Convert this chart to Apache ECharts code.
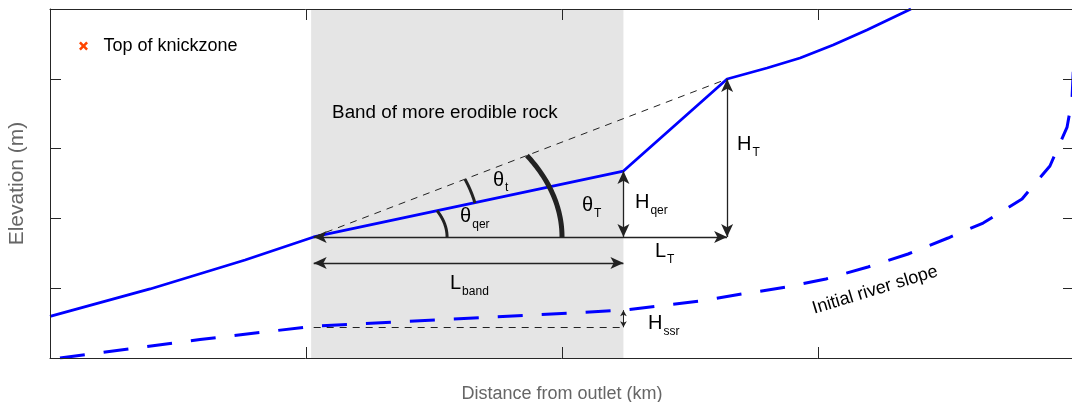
<!DOCTYPE html>
<html><head><meta charset="utf-8">
<script src="https://cdn.jsdelivr.net/npm/echarts@6/dist/echarts.min.js"></script>
<style>html,body{margin:0;padding:0;background:#fff}#c{width:1072px;height:402px}</style>
</head><body><div id="c"></div>
<script>
// ---- data (x: distance units, y: elevation units) ----
const xTicks = [0, 1, 2, 3, 4];
const yTicks = [0, 1, 2, 3, 4, 5];
const bandX = [1.02, 2.24];
const riverNow = [[0,0.595],[0.391,0.989],[0.762,1.404],[1.03,1.734],[2.24,2.679],[2.645,3.997],[2.801,4.155],[2.93,4.298],[3.059,4.484],[3.191,4.699],[3.363,5.0]];
const riverInitial = [[0.039,0],[0.586,0.265],[1.03,0.455],[2.24,0.685],[2.375,0.745],[2.539,0.817],[2.703,0.917],[2.871,1.013],[3.031,1.132],[3.195,1.304],[3.352,1.49],[3.508,1.719],[3.645,1.934],[3.797,2.278],[3.906,2.751],[3.973,3.309],[3.992,3.696],[3.997,4.1],[4.0,4.6]];
const guideLines = [
  [[1.03,1.734],[2.645,3.997]],
  [[1.03,0.44],[2.24,0.44]]
];
const arrowLines = [
  [[1.03,1.734],[2.645,1.734]],
  [[1.03,1.361],[2.24,1.361]],
  [[2.24,1.734],[2.24,2.679]],
  [[2.645,1.734],[2.645,3.997]]
];
const smallArrowLines = [
  [[2.24,0.44],[2.24,0.685]]
];
// angle arcs: vertex, point on first ray, point on second ray
const arcs = [
  {v:[1.03,1.734], p:[1.551,1.734], q:[1.512,2.11], w:3},
  {v:[1.03,1.734], p:[1.660,2.221], q:[1.621,2.562], w:3},
  {v:[1.03,1.734], p:[2.0,1.734], q:[1.863,2.901], w:5}
];
// labels: main text, subscript, x, y (left edge / middle of main glyph)
const labels = [
  ['θ','t',1.730,2.550],
  ['θ','qer',1.602,2.027],
  ['θ','T',2.078,2.185],
  ['H','qer',2.285,2.228],
  ['H','T',2.684,3.059],
  ['L','T',2.363,1.526],
  ['L','band',1.5625,1.067],
  ['H','ssr',2.336,0.494],
  ['Band of more erodible rock','',1.102,3.51]
];
const slopeLabel = ['Initial river slope', 3.223, 0.974];
const legendName = 'Top of knickzone';

// ---- rendering ----
const FF = 'Liberation Sans, Arial, Helvetica, sans-serif';
const ctx2 = document.createElement('canvas').getContext('2d');
function tw(s, size){ ctx2.font = size + 'px ' + FF; return ctx2.measureText(s).width; }

function axisBase(pos, isX){
  return {
    type:'value', position:pos, min: isX?xTicks[0]:yTicks[0], max: isX?xTicks[xTicks.length-1]:yTicks[yTicks.length-1], interval:1,
    axisLine:{show:true, onZero:false, lineStyle:{color:'#262626', width:1}},
    axisTick:{show:true, inside:true, length:11, lineStyle:{color:'#262626', width:1}},
    axisLabel:{show:false}, splitLine:{show:false}, z:10
  };
}
const xBottom = Object.assign(axisBase('bottom', true), {name:'Distance from outlet (km)', nameLocation:'middle', nameGap:27,
  nameTextStyle:{color:'#666', fontSize:18, fontFamily:FF}});
const xTop = axisBase('top', true);
const yLeft = Object.assign(axisBase('left', false), {name:'Elevation (m)', nameLocation:'middle', nameGap:22,
  nameTextStyle:{color:'#666', fontSize:21, fontFamily:FF}});
const yRight = axisBase('right', false);

const chart = echarts.init(document.getElementById('c'), null, {renderer:'canvas'});
chart.setOption({
  animation:false,
  backgroundColor:'#fff',
  grid:{left:50, right:-2, top:9, bottom:44, containLabel:false, outerBoundsMode:'none'},
  xAxis:[xBottom, xTop],
  yAxis:[yLeft, yRight],
  legend:{data:[legendName], left:74, top:32, itemWidth:30, itemHeight:9, icon:'path://M2,0 L5,3 L8,0 L10,2 L7,5 L10,8 L8,10 L5,7 L2,10 L0,8 L3,5 L0,2 Z',
    textStyle:{fontSize:18, color:'#000', fontFamily:FF}, selectedMode:false},
  series:[
    {name:'band', type:'line', data:[], z:1, silent:true,
     markArea:{silent:true, itemStyle:{color:'#e5e5e5'}, data:[[{xAxis:bandX[0]},{xAxis:bandX[1]}]]}},
    {name:legendName, type:'scatter', data:[], itemStyle:{color:'#ff4500', opacity:1}},
    {name:'initial', type:'line', data:riverInitial, symbol:'none', z:3,
     lineStyle:{color:'#0000ff', width:3, type:[25,19]}},
    {name:'guides', type:'line', data:[], z:3, silent:true,
     markLine:{silent:true, symbol:['none','none'], label:{show:false}, lineStyle:{color:'#222', width:1, type:[7,6]},
       data:guideLines.map(([a,b])=>[{coord:a},{coord:b}])}},
    {name:'river', type:'line', data:riverNow, symbol:'none', z:4,
     lineStyle:{color:'#0000ff', width:2.8}},
    {name:'arrows', type:'line', data:[], z:5, silent:true,
     markLine:{silent:true, symbol:['arrow','arrow'], symbolSize:[9,13], label:{show:false},
       lineStyle:{color:'#222', width:1.3, type:'solid'}, itemStyle:{color:'#222'},
       data:arrowLines.map(([a,b])=>[{coord:a},{coord:b}])}},
    {name:'arrowsSmall', type:'line', data:[], z:5, silent:true,
     markLine:{silent:true, symbol:['arrow','arrow'], symbolSize:[5,6], label:{show:false},
       lineStyle:{color:'#222', width:1, type:'solid'}, itemStyle:{color:'#222'},
       data:smallArrowLines.map(([a,b])=>[{coord:a},{coord:b}])}},
    {name:'arcs', type:'custom', z:6, silent:true, clip:false,
     data:arcs.map(a=>a.v),
     renderItem(params, api){
       const a = arcs[params.dataIndex];
       const c = api.coord(a.v), p0 = api.coord(a.p), p1 = api.coord(a.q);
       const dx0=p0[0]-c[0], dy0=c[1]-p0[1], dx1=p1[0]-c[0], dy1=c[1]-p1[1];
       const det = dx0*dx0*dy1*dy1 - dx1*dx1*dy0*dy0;
       const u=(dy1*dy1-dy0*dy0)/det, v=(dx0*dx0-dx1*dx1)/det;
       const A=1/Math.sqrt(u), B=1/Math.sqrt(v);
       const t0=Math.atan2(dy0/B, dx0/A), t1=Math.atan2(dy1/B, dx1/A);
       const pts=[];
       for(let i=0;i<=40;i++){const t=t0+(t1-t0)*i/40; pts.push([c[0]+A*Math.cos(t), c[1]-B*Math.sin(t)]);}
       return {type:'polyline', shape:{points:pts}, style:{stroke:'#222', lineWidth:a.w, fill:null}};
     }},
    {name:'labels', type:'custom', z:7, silent:true, clip:false,
     data:labels.map(l=>[l[2], l[3]]),
     renderItem(params, api){
       const l = labels[params.dataIndex];
       const p = api.coord([l[2], l[3]]);
       const big = l[1] ? 20 : 18.8;
       const children = [{type:'text', x:p[0], y:p[1], style:{text:l[0], fill:'#000', font: big+'px '+FF, align:'left', verticalAlign:'middle'}}];
       if(l[1]) children.push({type:'text', x:p[0]+tw(l[0],big)+1, y:p[1]+8, style:{text:l[1], fill:'#000', font:'12px '+FF, align:'left', verticalAlign:'middle'}});
       return {type:'group', children};
     }},
    {name:'slopeLabel', type:'custom', z:7, silent:true, clip:false,
     data:[[slopeLabel[1], slopeLabel[2]]],
     renderItem(params, api){
       const p = api.coord([slopeLabel[1], slopeLabel[2]]);
       return {type:'text', x:p[0], y:p[1], rotation:17*Math.PI/180,
         style:{text:slopeLabel[0], fill:'#000', font:'18px '+FF, align:'center', verticalAlign:'middle'}};
     }}
  ]
});
</script></body></html>
